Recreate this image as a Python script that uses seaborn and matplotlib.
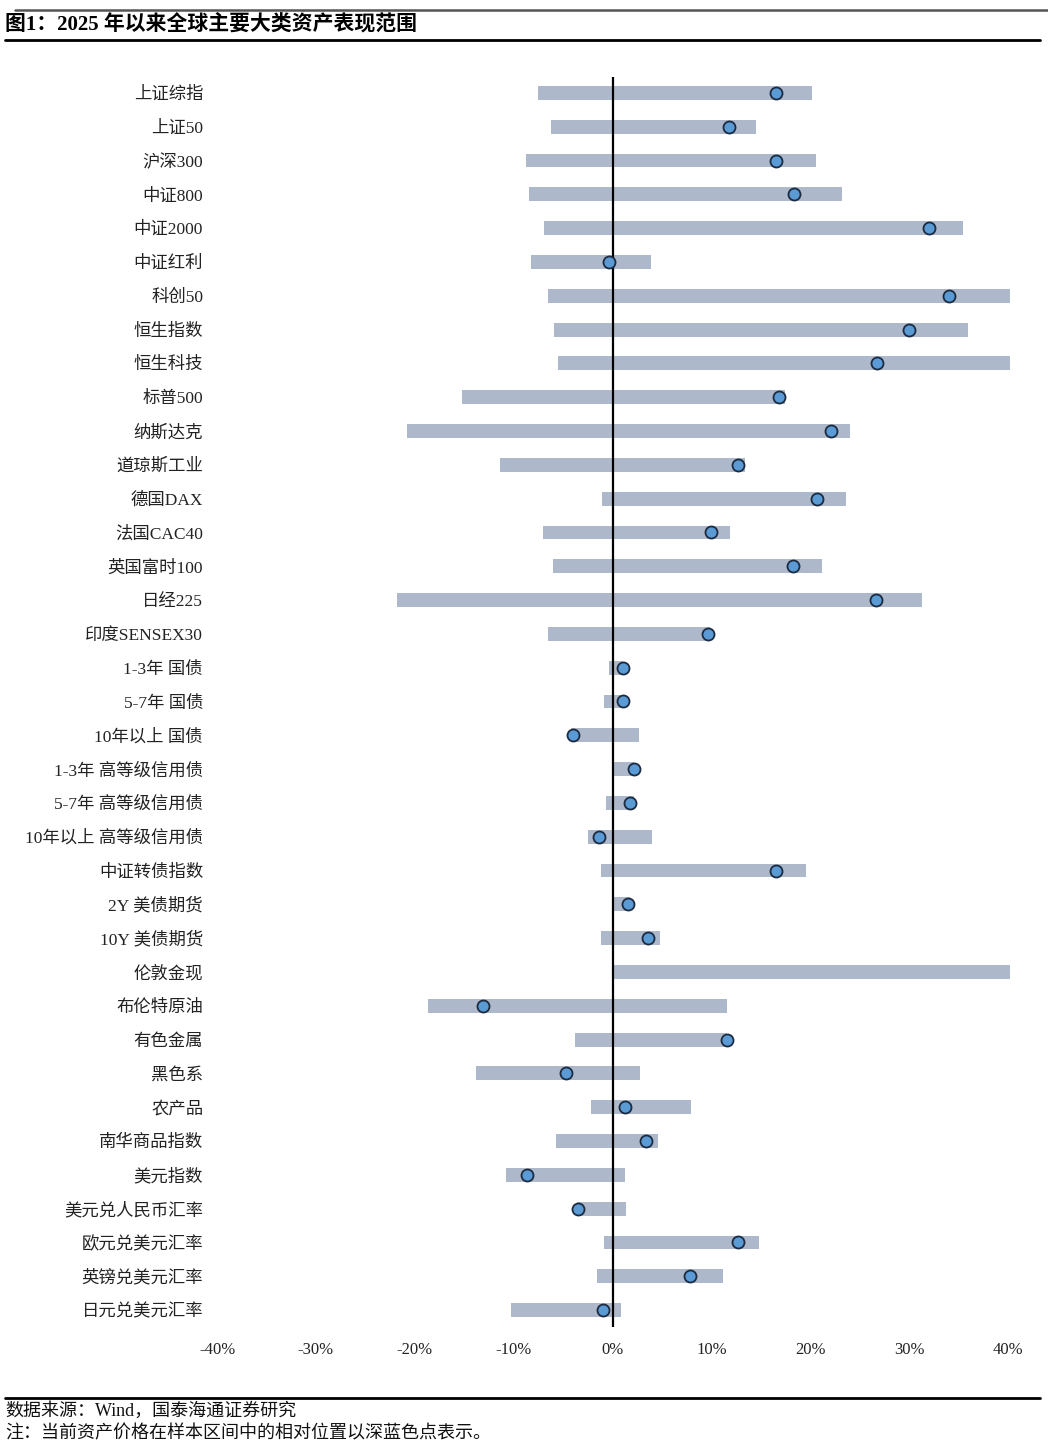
import pandas as pd
import numpy as np
import matplotlib
matplotlib.use("Agg")
import matplotlib.pyplot as plt
import seaborn as sns
from matplotlib.lines import Line2D

# asset names, top to bottom
assets = ["上证综指", "上证50", "沪深300", "中证800", "中证2000", "中证红利", "科创50",
          "恒生指数", "恒生科技", "标普500", "纳斯达克", "道琼斯工业", "德国DAX", "法国CAC40",
          "英国富时100", "日经225", "印度SENSEX30", "1-3年 国债", "5-7年 国债", "10年以上 国债",
          "1-3年 高等级信用债", "5-7年 高等级信用债", "10年以上 高等级信用债", "中证转债指数",
          "2Y 美债期货", "10Y 美债期货", "伦敦金现", "布伦特原油", "有色金属", "黑色系",
          "农产品", "南华商品指数", "美元指数", "美元兑人民币汇率", "欧元兑美元汇率",
          "英镑兑美元汇率", "日元兑美元汇率"]

# range since start of 2025 (%), lowest / highest / current
low = [-7.5, -6.2, -8.7, -8.4, -6.9, -8.2, -6.5, -5.9, -5.5, -15.2, -20.8, -11.4, -1.1, -7.0,
       -6.0, -21.8, -6.5, -0.4, -0.9, -4.2, -0.1, -0.7, -2.5, -1.2, -0.1, -1.2, 0.0, -18.7,
       -3.8, -13.8, -2.2, -5.7, -10.8, -3.6, -0.9, -1.6, -10.3]
high = [20.2, 14.5, 20.6, 23.2, 35.4, 3.9, 45.0, 36.0, 45.0, 17.4, 24.0, 13.4, 23.6, 11.9,
        21.2, 31.3, 9.9, 1.1, 1.2, 2.7, 2.2, 2.2, 4.0, 19.6, 1.8, 4.8, 45.0, 11.6,
        11.6, 2.8, 7.9, 4.6, 1.3, 1.4, 14.8, 11.2, 0.9]
current = [16.5, 11.8, 16.5, 18.4, 32.0, -0.4, 34.0, 30.0, 26.7, 16.8, 22.1, 12.7, 20.7, 10.0,
           18.3, 26.6, 9.7, 1.1, 1.1, -4.0, 2.2, 1.8, -1.4, 16.5, 1.6, 3.6, 46.0, -13.1,
           11.6, -4.7, 1.3, 3.4, -8.6, -3.5, 12.7, 7.8, -1.0]

ticks = [-40, -30, -20, -10, 0, 10, 20, 30, 40]

df = pd.DataFrame({"asset": assets, "low": low, "high": high, "current": current})

sns.set_theme(style="white")
plt.rcParams['font.family'] = ['Liberation Serif', 'Noto Sans CJK SC', 'DejaVu Sans']

fig = plt.figure(figsize=(10.48, 14.48), dpi=100)
W, H = 1048, 1448
ax = fig.add_axes([217 / W, 1 - 1327 / H, (1010 - 217) / W, (1327 - 77) / H])

bar_col = "#ADB9CA"
# every bar crosses zero, so draw the positive and negative halves
sns.barplot(data=df, x="high", y="asset", orient="h", color=bar_col, saturation=1,
            width=0.41, linewidth=0, ax=ax)
sns.barplot(data=df, x="low", y="asset", orient="h", color=bar_col, saturation=1,
            width=0.41, linewidth=0, ax=ax)
sns.scatterplot(data=df, x="current", y="asset", s=75, color="#5B9BD5",
                edgecolor="#1C2B40", linewidth=1.3, zorder=5, ax=ax)

ax.axvline(0, color="black", lw=1.6, zorder=4)
ax.set_xlim(-40, 40.2)
ax.set_ylim(len(assets) - 0.5, -0.47)
ax.set_xticks(ticks)
ax.set_xticklabels([f"{t}%" for t in ticks], fontsize=12, color="#222222")
ax.tick_params(axis="x", length=0, pad=11)
ax.tick_params(axis="y", length=0, pad=10, labelsize=12.5, labelcolor="#222222")
ax.set_xlabel("")
ax.set_ylabel("")
for s in ax.spines.values():
    s.set_visible(False)

# header / footer
fig.add_artist(Line2D([15 / W, 1.0], [1 - 10 / H, 1 - 10 / H], color="#555555", lw=1.8))
fig.text(5 / W, 1 - 25 / H, "图1：2025 年以来全球主要大类资产表现范围", fontsize=15,
         fontweight="bold", va="center", ha="left", color="black")
fig.add_artist(Line2D([5 / W, 1040 / W], [1 - 40 / H, 1 - 40 / H], color="black", lw=2))
fig.add_artist(Line2D([5 / W, 1040 / W], [1 - 1398 / H, 1 - 1398 / H], color="black", lw=2))
fig.text(5 / W, 1 - 1411 / H, "数据来源：Wind，国泰海通证券研究", fontsize=13,
         va="center", ha="left", color="#111111")
fig.text(5 / W, 1 - 1434 / H, "注：当前资产价格在样本区间中的相对位置以深蓝色点表示。", fontsize=13,
         va="center", ha="left", color="#111111")

fig.savefig("out.png", dpi=100)
